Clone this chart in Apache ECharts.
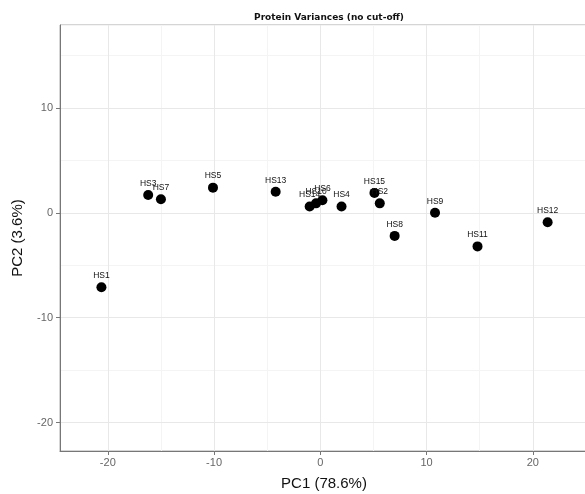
<!DOCTYPE html>
<html>
<head>
<meta charset="utf-8">
<script src="https://cdn.jsdelivr.net/npm/echarts@6/dist/echarts.min.js"></script>
<style>
  html, body { margin: 0; padding: 0; background: #fff; }
  #chart { width: 585px; height: 494px; }
</style>
</head>
<body>
<div id="chart"></div>
<script>
const sampleNames = ['HS1', 'HS3', 'HS7', 'HS5', 'HS13', 'HS14', 'HS10', 'HS6', 'HS4', 'HS15', 'HS2', 'HS8', 'HS9', 'HS11', 'HS12']
const pc1 = [-20.6, -16.2, -15.0, -10.1, -4.2, -1.0, -0.4, 0.2, 2.0, 5.1, 5.6, 7.0, 10.8, 14.8, 21.4]
const pc2 = [-7.1, 1.7, 1.3, 2.4, 2.0, 0.6, 0.9, 1.2, 0.6, 1.9, 0.9, -2.2, 0.0, -3.2, -0.9]
const xTicks = [-20, -10, 0, 10, 20]
const yTicks = [-20, -10, 0, 10]

const points = sampleNames.map((n, i) => ({ name: n, value: [pc1[i], pc2[i]] }))

const chart = echarts.init(document.getElementById('chart'))

const xRange = { min: -24.5, max: 25.2 }
const yRange = { min: -22.7, max: 17.9 }

let option = {
    animation: false,
    title: {
        text: 'Protein Variances (no cut-off)',
        left: 324,
        textAlign: 'center',
        top: 8,
        textStyle: { fontSize: 9, fontWeight: 'bold', color: '#111', fontFamily: 'DejaVu Sans' }
    },
    grid: {
        left: 60, right: -3, top: 25, bottom: 43,
        outerBoundsMode: 'none',
        show: true, borderColor: '#aaa', borderWidth: 1
    },
    xAxis: [
        {
            type: 'value', ...xRange,
            name: 'PC1 (78.6%)', nameLocation: 'middle', nameGap: 25,
            nameTextStyle: { fontSize: 15, color: '#111', fontFamily: 'Liberation Sans' },
            axisLine: { onZero: false, lineStyle: { color: '#777' } },
            axisTick: { show: true, length: 4, customValues: xTicks, lineStyle: { color: '#777' } },
            axisLabel: { customValues: xTicks, fontSize: 11, color: '#666', margin: 6, fontFamily: 'Liberation Sans' },
            splitLine: { show: true, lineStyle: { color: '#e8e8e8' } },
            z: 3
        },
        {
            type: 'value', ...xRange, splitNumber: 10, position: 'bottom',
            axisLine: { show: false }, axisTick: { show: false }, axisLabel: { show: false },
            splitLine: { show: true, lineStyle: { color: '#f4f4f4' } },
            z: 1
        }
    ],
    yAxis: [
        {
            type: 'value', ...yRange,
            name: 'PC2 (3.6%)', nameLocation: 'middle', nameGap: 35,
            nameTextStyle: { fontSize: 15, color: '#111', fontFamily: 'Liberation Sans' },
            axisLine: { show: true, onZero: false, lineStyle: { color: '#777' } },
            axisTick: { show: true, length: 4, customValues: yTicks, lineStyle: { color: '#777' } },
            axisLabel: { customValues: yTicks, fontSize: 11, color: '#666', margin: 7, fontFamily: 'Liberation Sans' },
            splitLine: { show: true, lineStyle: { color: '#e8e8e8' } },
            z: 3
        },
        {
            type: 'value', ...yRange, splitNumber: 8, position: 'left',
            axisLine: { show: false }, axisTick: { show: false }, axisLabel: { show: false },
            splitLine: { show: true, lineStyle: { color: '#f4f4f4' } },
            z: 1
        }
    ],
    series: [
        {
            type: 'scatter',
            data: points,
            symbolSize: 10,
            itemStyle: { color: '#000', opacity: 1 },
            label: {
                show: true,
                position: 'top',
                distance: 2,
                formatter: '{b}',
                fontSize: 8.5,
                color: '#111',
                fontFamily: 'Liberation Sans'
            },
            z: 5
        }
    ]
}
chart.setOption(option, true)
</script>
</body>
</html>
